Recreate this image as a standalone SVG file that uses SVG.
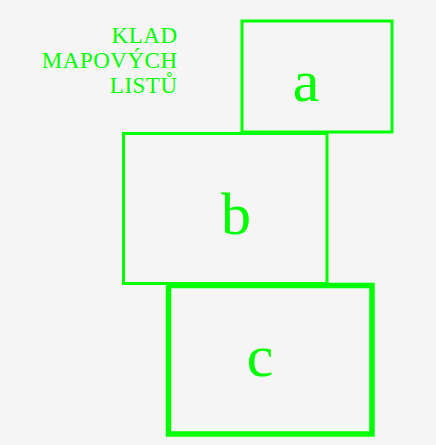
<svg xmlns="http://www.w3.org/2000/svg" width="436" height="445" viewBox="0 0 436 445">
<style>
.box{fill:none;stroke:#00ff00;stroke-width:3}
.thick{stroke-width:5.5}
.lbl{font-family:"Liberation Serif",serif;fill:#00ff00;text-anchor:middle;font-size:60px}
.ttl{font-family:"Liberation Serif",serif;fill:#00ff00;text-anchor:end;font-size:23px;letter-spacing:0.5px}
</style>
<rect width="436" height="445" fill="#f5f5f5"/>
<g id="title">
<text class="ttl" x="177.5" y="43">KLAD</text>
<text class="ttl" x="177.5" y="68">MAPOVÝCH</text>
<text class="ttl" x="177.5" y="93">LISTŮ</text>
</g>
<g id="connectors"></g>
<g id="a"><rect class="box" x="242" y="21" width="150" height="111"/><text class="lbl" x="306" y="101">a</text></g>
<g id="b"><rect class="box" x="123.5" y="133.5" width="203.5" height="150"/><text class="lbl" x="236" y="234">b</text></g>
<g id="c"><rect class="box thick" x="168.5" y="285.5" width="203.5" height="148.5"/><text class="lbl" x="260" y="376">c</text></g>
</svg>
